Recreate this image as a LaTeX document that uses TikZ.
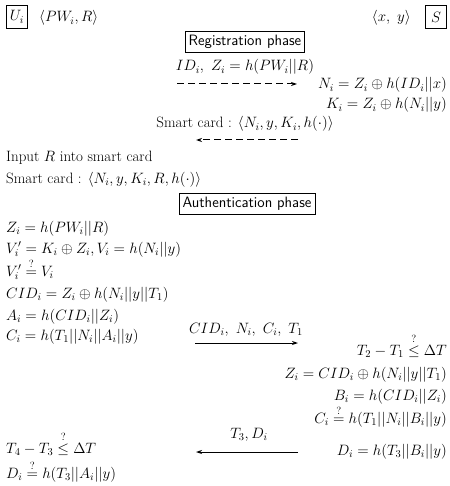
\RequirePackage{fix-cm}
\documentclass[tikz,border=0pt]{standalone}
\usepackage{amsmath}
\usepackage{fontspec}
\usetikzlibrary{arrows.meta}
\begin{document}
\begin{tikzpicture}[x=1pt,y=-1pt,
  every node/.style={font=\fontsize{15}{18}\selectfont, inner sep=0pt},
  lft/.style={anchor=base west},
  rgt/.style={anchor=base east},
  mid/.style={anchor=base},
  phase/.style={draw, line width=0.8pt, inner sep=3.5pt, font=\fontsize{15}{18}\selectfont\sffamily},
  party/.style={draw, line width=0.8pt, inner sep=2pt, minimum width=21pt, minimum height=23pt},
  msg/.style={line width=1pt, -{Stealth[length=6pt,width=4pt]}},
  dmsg/.style={msg, dash pattern=on 7pt off 4pt}]
\useasboundingbox (0,0) rectangle (449,486);
% parties
\node[party, anchor=west] (U) at (6,17) {$U_i$};
\node[lft] (ukey) at (39,22) {$\langle PW_i, R\rangle$};
\node[party, anchor=east] (S) at (447,17) {$S$};
\node[rgt] (skey) at (411,22) {$\langle x,\ y\rangle$};
% registration
\node[phase] (reg) at (245,42) {Registration phase};
\node[mid] (idl) at (245,71) {$ID_i,\ Z_i = h(PW_i||R)$};
\coordinate (r1s) at (177,84);
\coordinate (r1e) at (297,84);
\draw[dmsg] (r1s) -- (r1e);
\node[rgt] (ni) at (447,89) {$N_i = Z_i \oplus h(ID_i||x)$};
\node[rgt] (ki) at (447,109) {$K_i = Z_i \oplus h(N_i||y)$};
\node[mid] (sc1) at (245,128) {Smart card : $\langle N_i, y, K_i, h(\cdot)\rangle$};
\coordinate (r2s) at (298,140);
\coordinate (r2e) at (196,140);
\draw[dmsg] (r2s) -- (r2e);
\node[lft] (inp) at (6,162) {Input $R$ into smart card};
\node[lft] (sc2) at (6,183) {Smart card : $\langle N_i, y, K_i, R, h(\cdot)\rangle$};
% authentication
\node[phase] (auth) at (247,204) {Authentication phase};
\node[lft] (a1) at (6,232) {$Z_i = h(PW_i||R)$};
\node[lft] (a2) at (6,253) {$V_i' = K_i \oplus Z_i, V_i = h(N_i||y)$};
\node[lft] (a3) at (6,276) {$V_i' \stackrel{?}{=} V_i$};
\node[lft] (a4) at (6,298) {$CID_i = Z_i \oplus h(N_i||y||T_1)$};
\node[lft] (a5) at (6,320) {$A_i = h(CID_i||Z_i)$};
\node[lft] (a6) at (6,340) {$C_i = h(T_1||N_i||A_i||y)$};
\node[mid] (m1) at (246,333) {$CID_i,\ N_i,\ C_i,\ T_1$};
\coordinate (m1s) at (195,343);
\coordinate (m1e) at (298,343);
\draw[msg] (m1s) -- (m1e);
\node[rgt] (b1) at (447,355) {$T_2 - T_1 \stackrel{?}{\le} \Delta T$};
\node[rgt] (b2) at (447,378) {$Z_i = CID_i \oplus h(N_i||y||T_1)$};
\node[rgt] (b3) at (447,400) {$B_i = h(CID_i||Z_i)$};
\node[rgt] (b4) at (447,423) {$C_i \stackrel{?}{=} h(T_1||N_i||B_i||y)$};
\node[mid] (m2) at (249,438) {$T_3, D_i$};
\coordinate (m2s) at (298,452);
\coordinate (m2e) at (196,452);
\draw[msg] (m2s) -- (m2e);
\node[rgt] (b5) at (447,455) {$D_i = h(T_3||B_i||y)$};
\node[lft] (c1) at (6,453) {$T_4 - T_3 \stackrel{?}{\le} \Delta T$};
\node[lft] (c2) at (6,478) {$D_i \stackrel{?}{=} h(T_3||A_i||y)$};
\end{tikzpicture}
\end{document}
